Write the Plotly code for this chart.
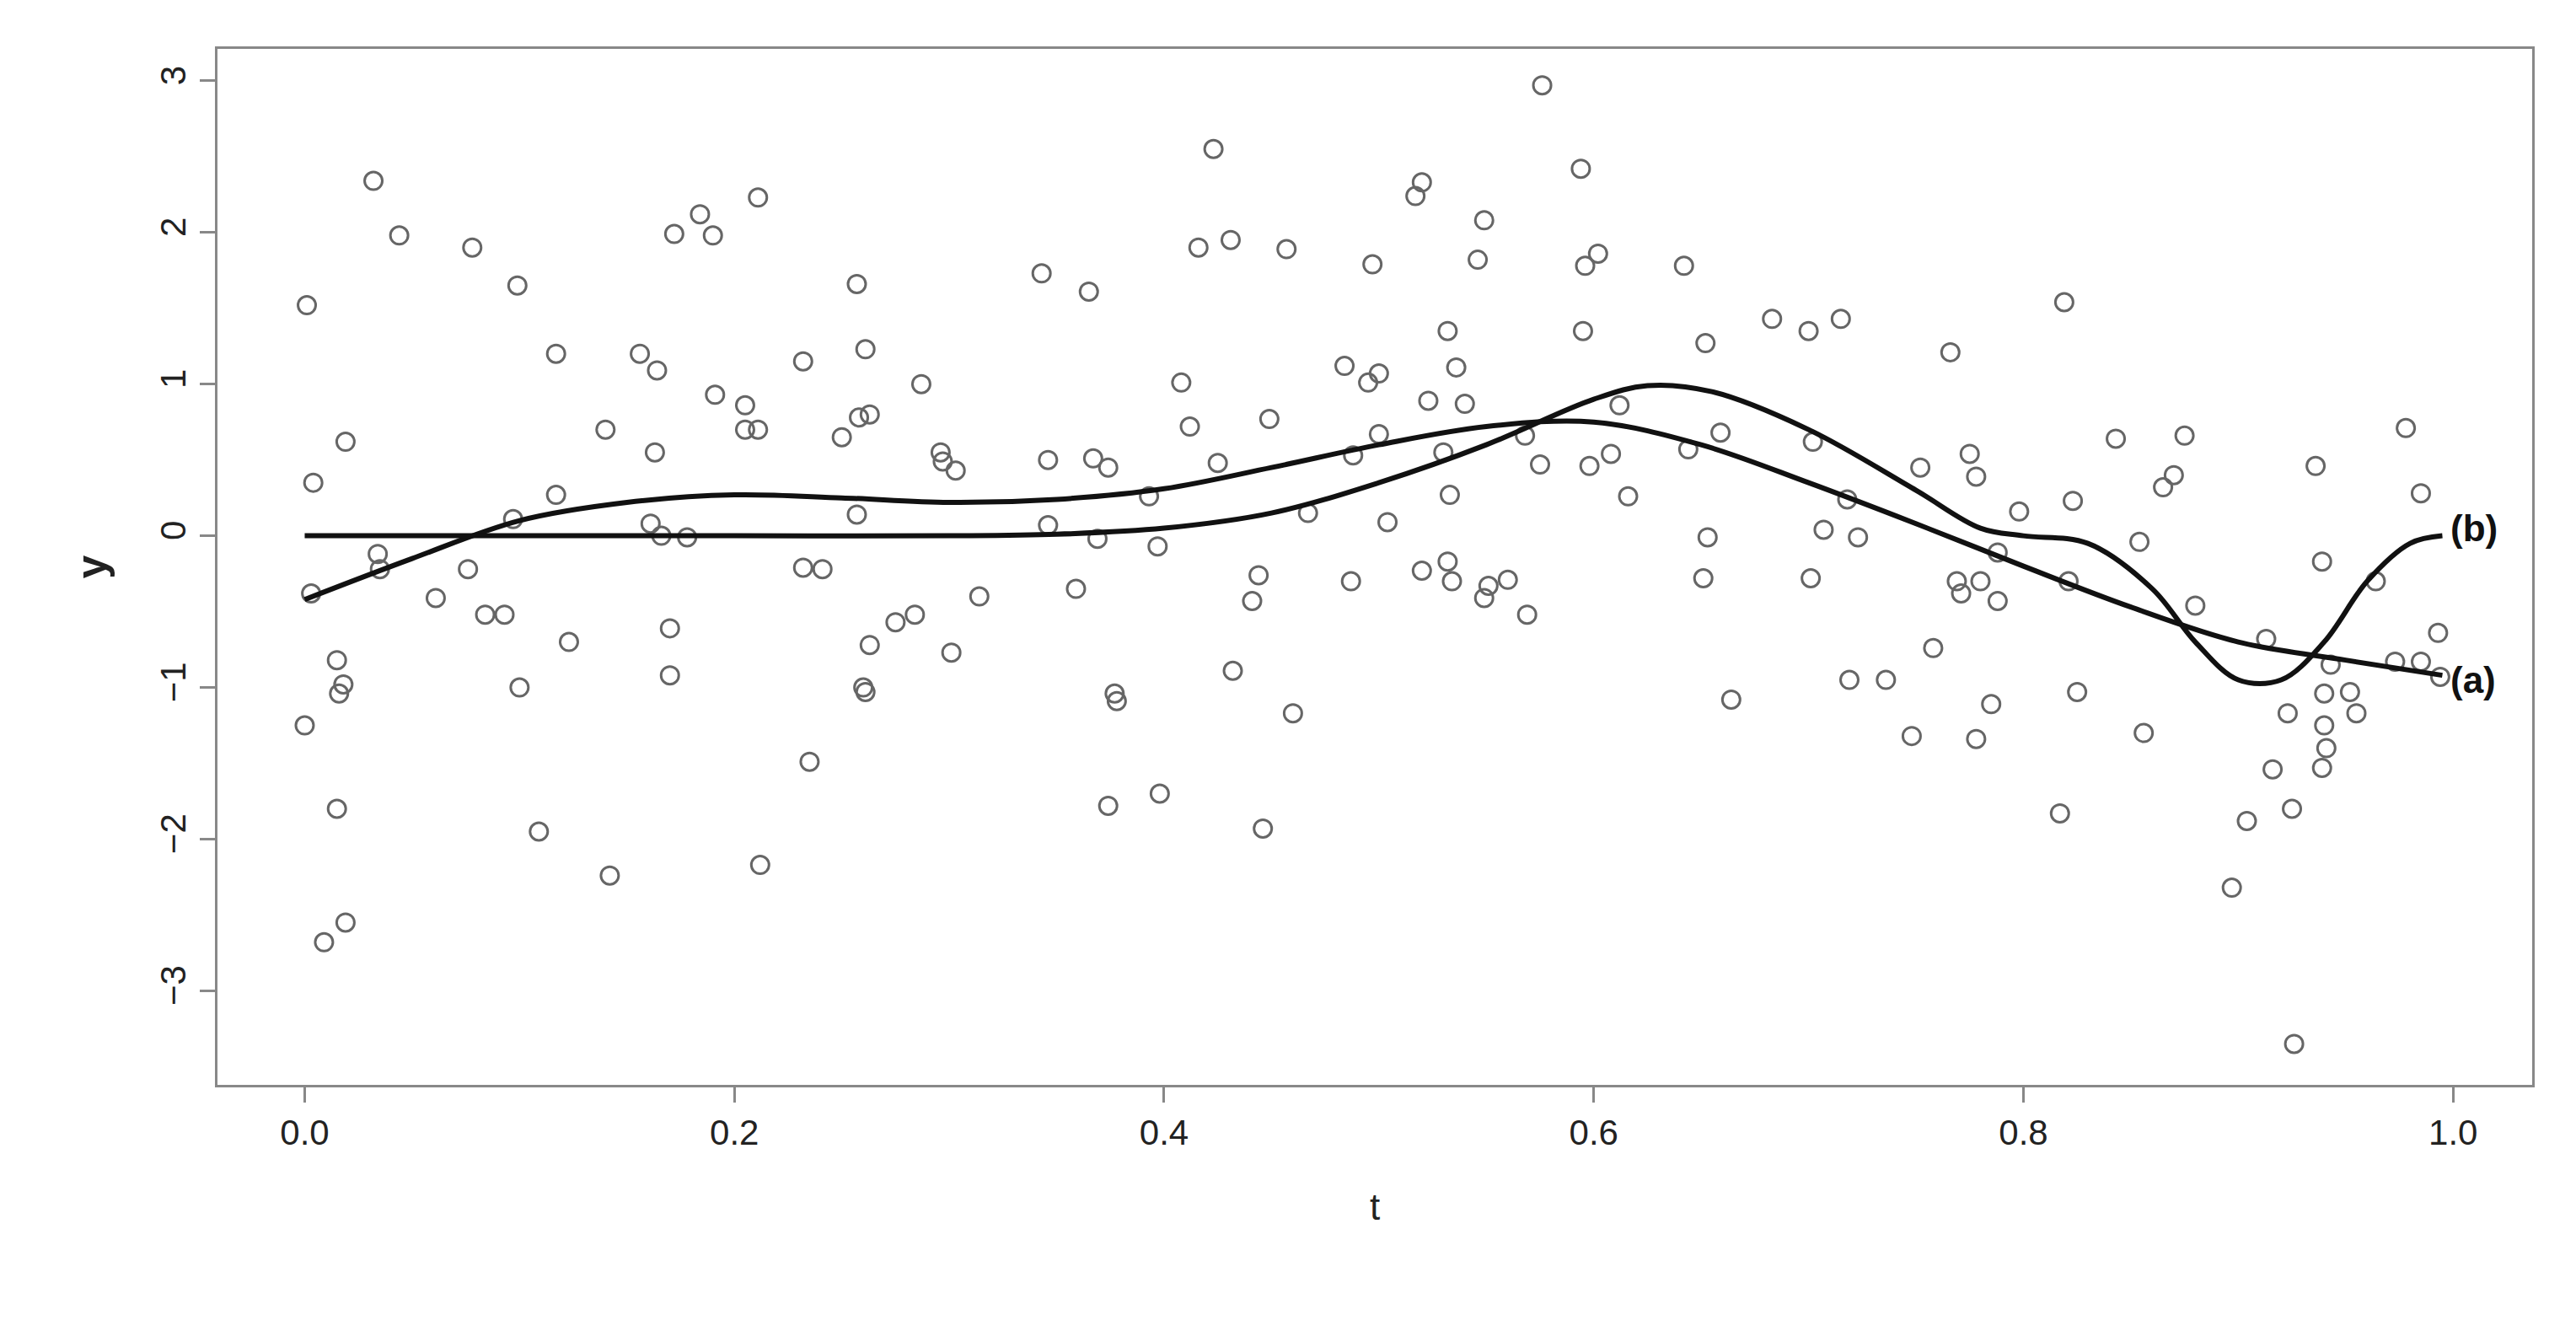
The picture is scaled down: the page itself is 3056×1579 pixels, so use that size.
import plotly.graph_objects as go

# scattered observations
t_obs = [0.001, 0.0, 0.004, 0.003, 0.009, 0.015, 0.015, 0.018, 0.016, 0.019, 0.019, 0.032, 0.034, 0.035,
         0.044, 0.061, 0.076, 0.078, 0.084, 0.093, 0.097, 0.099, 0.100, 0.109, 0.117, 0.117, 0.123, 0.140,
         0.142, 0.156, 0.161, 0.163, 0.164, 0.166, 0.170, 0.170, 0.172, 0.178, 0.184, 0.190, 0.191, 0.205,
         0.205, 0.211, 0.211, 0.212, 0.232, 0.232, 0.235, 0.241, 0.250, 0.257, 0.257, 0.258, 0.261, 0.260,
         0.261, 0.263, 0.263, 0.275, 0.284, 0.287, 0.296, 0.297, 0.301, 0.303, 0.314, 0.343, 0.346, 0.346,
         0.359, 0.365, 0.367, 0.369, 0.374, 0.374, 0.378, 0.377, 0.393, 0.397, 0.398, 0.408, 0.412, 0.416,
         0.423, 0.425, 0.431, 0.432, 0.441, 0.444, 0.446, 0.449, 0.457, 0.460, 0.467, 0.484, 0.487, 0.488,
         0.495, 0.497, 0.500, 0.500, 0.504, 0.517, 0.520, 0.520, 0.523, 0.530, 0.532, 0.532, 0.533, 0.534,
         0.536, 0.540, 0.546, 0.549, 0.549, 0.551, 0.560, 0.569, 0.568, 0.575, 0.576, 0.594, 0.595, 0.596,
         0.598, 0.602, 0.608, 0.612, 0.616, 0.642, 0.644, 0.651, 0.652, 0.653, 0.659, 0.664, 0.683, 0.700,
         0.701, 0.702, 0.707, 0.715, 0.718, 0.719, 0.723, 0.736, 0.748, 0.752, 0.758, 0.766, 0.769, 0.771,
         0.775, 0.778, 0.778, 0.780, 0.785, 0.788, 0.788, 0.798, 0.817, 0.819, 0.821, 0.823, 0.825, 0.843,
         0.854, 0.856, 0.865, 0.870, 0.875, 0.880, 0.897, 0.904, 0.913, 0.916, 0.923, 0.925, 0.926, 0.936,
         0.939, 0.940, 0.940, 0.941, 0.939, 0.943, 0.952, 0.955, 0.964, 0.973, 0.978, 0.985, 0.985, 0.994,
         0.993]
y_obs = [1.52, -1.25, 0.35, -0.38, -2.68, -1.80, -0.82, -0.98, -1.04, -2.55, 0.62, 2.34, -0.12, -0.22,
         1.98, -0.41, -0.22, 1.90, -0.52, -0.52, 0.11, 1.65, -1.00, -1.95, 1.20, 0.27, -0.70, 0.70,
         -2.24, 1.20, 0.08, 0.55, 1.09, 0.0, -0.61, -0.92, 1.99, -0.01, 2.12, 1.98, 0.93, 0.86,
         0.70, 0.70, 2.23, -2.17, 1.15, -0.21, -1.49, -0.22, 0.65, 0.14, 1.66, 0.78, 1.23, -1.00,
         -1.03, 0.80, -0.72, -0.57, -0.52, 1.00, 0.55, 0.49, -0.77, 0.43, -0.40, 1.73, 0.50, 0.07,
         -0.35, 1.61, 0.51, -0.02, 0.45, -1.78, -1.09, -1.04, 0.26, -0.07, -1.70, 1.01, 0.72, 1.90,
         2.55, 0.48, 1.95, -0.89, -0.43, -0.26, -1.93, 0.77, 1.89, -1.17, 0.15, 1.12, -0.30, 0.53,
         1.01, 1.79, 1.07, 0.67, 0.09, 2.24, 2.33, -0.23, 0.89, 0.55, 1.35, -0.17, 0.27, -0.30,
         1.11, 0.87, 1.82, 2.08, -0.41, -0.33, -0.29, -0.52, 0.66, 0.47, 2.97, 2.42, 1.35, 1.78,
         0.46, 1.86, 0.54, 0.86, 0.26, 1.78, 0.57, -0.28, 1.27, -0.01, 0.68, -1.08, 1.43, 1.35,
         -0.28, 0.62, 0.04, 1.43, 0.24, -0.95, -0.01, -0.95, -1.32, 0.45, -0.74, 1.21, -0.30, -0.38,
         0.54, 0.39, -1.34, -0.30, -1.11, -0.11, -0.43, 0.16, -1.83, 1.54, -0.30, 0.23, -1.03, 0.64,
         -0.04, -1.30, 0.32, 0.40, 0.66, -0.46, -2.32, -1.88, -0.68, -1.54, -1.17, -1.80, -3.35, 0.46,
         -0.17, -1.04, -1.25, -1.40, -1.53, -0.85, -1.03, -1.17, -0.30, -0.83, 0.71, 0.28, -0.83, -0.93,
         -0.64]

# fitted curve (a)
t_a = [0.0, 0.05, 0.1, 0.15, 0.2, 0.25, 0.3, 0.35, 0.4, 0.45, 0.5, 0.55, 0.6, 0.65, 0.7, 0.75, 0.8,
       0.85, 0.9, 0.95, 0.995]
y_a = [-0.42, -0.15, 0.1, 0.22, 0.27, 0.25, 0.22, 0.24, 0.31, 0.45, 0.6, 0.72, 0.75, 0.6, 0.35, 0.08,
       -0.2, -0.47, -0.7, -0.82, -0.92]

# true function (b)
t_b = [0.0, 0.1, 0.2, 0.3, 0.35, 0.4, 0.45, 0.5, 0.55, 0.6, 0.625, 0.655, 0.7, 0.75, 0.78, 0.8, 0.83,
       0.86, 0.88, 0.9, 0.92, 0.94, 0.96, 0.98, 0.995]
y_b = [0.0, 0.0, 0.0, 0.0, 0.01, 0.05, 0.15, 0.35, 0.6, 0.9, 0.99, 0.95, 0.7, 0.3, 0.05, 0.0, -0.05,
       -0.35, -0.7, -0.95, -0.95, -0.7, -0.3, -0.05, 0.0]

fig = go.Figure()
fig.add_trace(go.Scatter(x=t_obs, y=y_obs, mode='markers',
                         marker=dict(symbol='circle-open', size=21, color='#666', line=dict(width=3))))
fig.add_trace(go.Scatter(x=t_a, y=y_a, mode='lines', line=dict(color='#111', width=6, shape='spline')))
fig.add_trace(go.Scatter(x=t_b, y=y_b, mode='lines', line=dict(color='#111', width=6, shape='spline')))

fig.add_annotation(x=0.998, y=-0.95, text='<b>(a)</b>', showarrow=False, xanchor='left',
                   font=dict(size=44, color='#111'))
fig.add_annotation(x=0.998, y=0.05, text='<b>(b)</b>', showarrow=False, xanchor='left',
                   font=dict(size=44, color='#111'))

axis_common = dict(showgrid=False, zeroline=False, showline=True, mirror=True, linecolor='#888',
                   linewidth=3, ticks='outside', ticklen=18, tickwidth=3, tickcolor='#888',
                   tickfont=dict(size=42, color='#222'))
fig.update_layout(
    width=3056, height=1579, plot_bgcolor='white', paper_bgcolor='white', showlegend=False,
    font=dict(family='Arial, Liberation Sans', color='#222'),
    margin=dict(l=250, r=60, t=50, b=300),
    xaxis=dict(range=[-0.0406, 1.0368], tickvals=[0, 0.2, 0.4, 0.6, 0.8, 1.0],
               ticktext=['0.0', '0.2', '0.4', '0.6', '0.8', '1.0'],
               title=dict(text='t', font=dict(size=44), standoff=50), **axis_common),
    yaxis=dict(range=[-3.62, 3.21], tickvals=[-3, -2, -1, 0, 1, 2, 3], tickangle=-90,
               title=dict(text='<b>y</b>', font=dict(size=50), standoff=40), **axis_common),
)

fig.write_html("out.html")
